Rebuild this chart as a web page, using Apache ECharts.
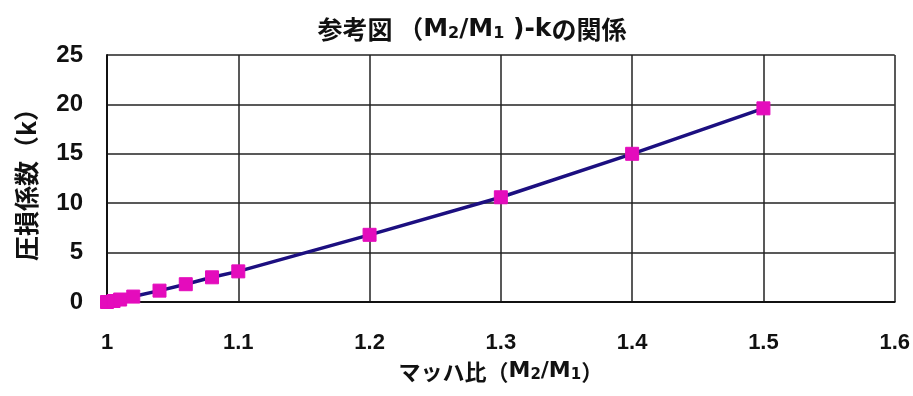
<!DOCTYPE html>
<html>
<head>
<meta charset="utf-8">
<script src="https://cdn.jsdelivr.net/npm/echarts@6/dist/echarts.min.js"></script>
<style>
  html, body { margin: 0; padding: 0; background: #fff; }
  #chart { width: 913px; height: 396px; }
</style>
</head>
<body>
<div id="chart"></div>
<script>
// Mach ratio (M2/M1) and the pressure-loss coefficient k
const machRatio = [1.0, 1.005, 1.01, 1.02, 1.04, 1.06, 1.08, 1.1, 1.2, 1.3, 1.4, 1.5];
const lossCoef  = [0.0, 0.1, 0.25, 0.55, 1.15, 1.8, 2.5, 3.1, 6.8, 10.6, 15.0, 19.6];
const yTicks = [0, 5, 10, 15, 20, 25];

const NUM = '"Liberation Sans", Arial, sans-serif';
const LATIN = '"DejaVu Sans", "Liberation Sans", sans-serif';
const CJK = '"Noto Sans CJK JP", "Liberation Sans", sans-serif';
const INK = '#111';

function richSet(size, subSize) {
  return {
    a: { fontSize: size, fontWeight: 'bold', fontFamily: CJK, color: INK },
    m: { fontSize: size, fontWeight: 'bold', fontFamily: LATIN, color: INK },
    s: { fontSize: subSize, fontWeight: 'bold', fontFamily: LATIN, color: INK, verticalAlign: 'bottom', padding: [Math.round(size * 0.35), 0, 0, 0] }
  };
}

const points = machRatio.map((x, i) => [x, lossCoef[i]]);

const chart = echarts.init(document.getElementById('chart'));
chart.setOption({
  backgroundColor: '#ffffff',
  animation: false,
  title: {
    text: '{a|参考図 （}{m|M}{s|2}{m|/M}{s|1}{m| )-k}{a|の関係}',
    left: 467,
    textAlign: 'center',
    top: 12,
    textStyle: { rich: richSet(25, 16) }
  },
  grid: { left: 107, right: 18, top: 55, bottom: 94, containLabel: false },
  xAxis: {
    type: 'value',
    min: 1,
    max: 1.6,
    interval: 0.1,
    name: '{a|マッハ比（}{m|M}{s|2}{m|/M}{s|1}{a|）}',
    nameLocation: 'middle',
    nameGap: 58,
    nameTextStyle: { rich: richSet(22, 15) },
    axisLine: { show: true, lineStyle: { color: INK, width: 2 } },
    axisTick: { show: false },
    axisLabel: {
      margin: 30,
      fontSize: 22,
      fontWeight: 'bold',
      fontFamily: NUM,
      color: INK,
      formatter: v => String(+v.toFixed(1))
    },
    splitLine: { show: true, lineStyle: { color: '#222', width: 1.5 } }
  },
  yAxis: {
    type: 'value',
    min: yTicks[0],
    max: yTicks[yTicks.length - 1],
    interval: 5,
    name: '圧損係数（k）',
    nameLocation: 'middle',
    nameGap: 68,
    nameRotate: 90,
    nameTextStyle: { fontSize: 25, fontWeight: 'bold', fontFamily: CJK, color: INK },
    axisLine: { show: true, lineStyle: { color: INK, width: 2 } },
    axisTick: { show: false },
    axisLabel: {
      margin: 24,
      fontSize: 24,
      fontWeight: 'bold',
      fontFamily: NUM,
      color: INK
    },
    splitLine: { show: true, lineStyle: { color: '#222', width: 1.5 } }
  },
  series: [
    {
      type: 'line',
      data: points,
      symbol: 'rect',
      symbolSize: 13,
      showAllSymbol: true,
      lineStyle: { color: '#1c0f80', width: 3.5 },
      itemStyle: { color: '#e40cbc', borderColor: '#e40cbc' },
      z: 3
    }
  ]
});
</script>
</body>
</html>
